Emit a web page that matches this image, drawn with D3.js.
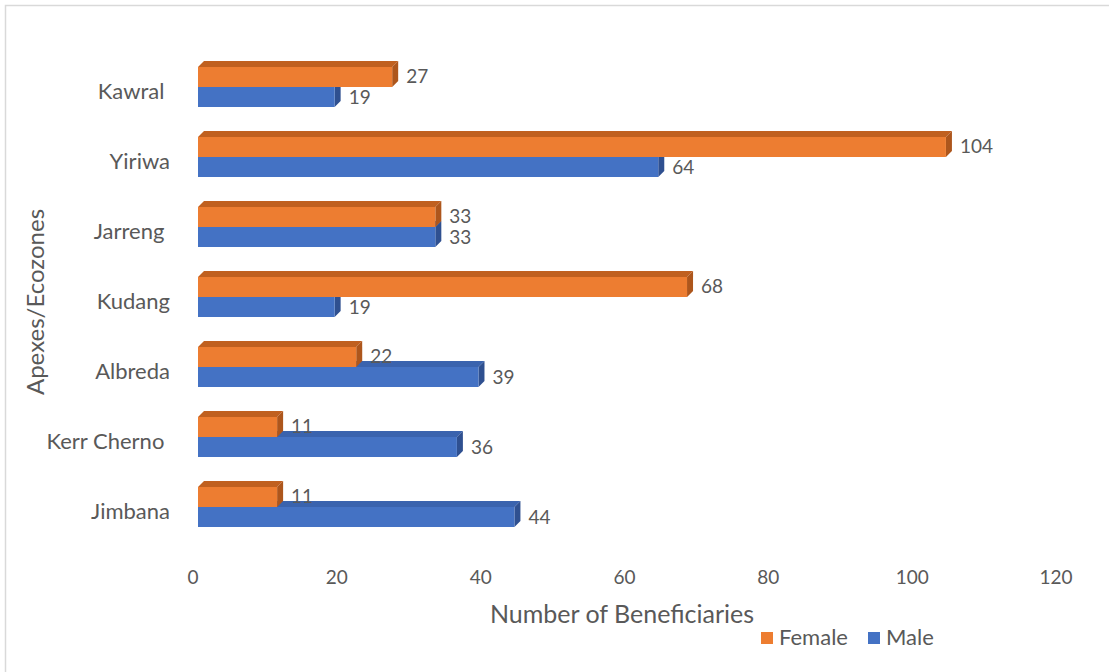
<!DOCTYPE html>
<html><head><meta charset="utf-8">
<script src="https://cdn.jsdelivr.net/npm/d3@7"></script>
<style>
body{margin:0;background:#fff;}
text{font-family:"Lato",sans-serif;fill:#595959;white-space:pre;}
</style></head><body>
<svg id="c" width="1109" height="672"></svg>
<script>
const categories = ["Kawral ", "Yiriwa", "Jarreng ", "Kudang", "Albreda", "Kerr Cherno ", "Jimbana"];
const female = [27, 104, 33, 68, 22, 11, 11];
const male = [19, 64, 33, 19, 39, 36, 44];
const xTicks = [0, 20, 40, 60, 80, 100, 120];
const seriesNames = ["Female", "Male"];

const colors = {
  Female: {front: "#ED7D31", top: "#C0601F", side: "#AD561C"},
  Male: {front: "#4472C4", top: "#3A63AE", side: "#2F5090"}
};

const svg = d3.select("#c");
svg.append("rect").attr("x", 5.5).attr("y", 5.5).attr("width", 1200).attr("height", 800)
  .attr("fill", "none").attr("stroke", "#d9d9d9").attr("stroke-width", 1.5);

const x = d3.scaleLinear().domain([0, 120]).range([198, 1061]);
const y = d3.scaleBand().domain(categories).range([52, 542]).padding(0);
const inner = d3.scaleBand().domain(seriesNames).range([15, 55]).padding(0);
const dx = 6, dy = -6;

const rows = categories.map((c, i) => ({cat: c, Female: female[i], Male: male[i]}));

const drawOrder = ["Male", "Female"];
drawOrder.forEach(s => {
  const g = svg.append("g");
  rows.forEach(r => {
    const x0 = x(0), x1 = x(r[s]);
    const y0 = y(r.cat) + inner(s), y1 = y0 + inner.bandwidth();
    const col = colors[s];
    g.append("path").attr("d", `M${x0},${y0}L${x0+dx},${y0+dy}L${x1+dx},${y0+dy}L${x1},${y0}Z`)
      .attr("fill", col.top);
    g.append("path").attr("d", `M${x1},${y0}L${x1+dx},${y0+dy}L${x1+dx},${y1+dy}L${x1},${y1}Z`)
      .attr("fill", col.side);
    g.append("rect").attr("x", x0).attr("y", y0).attr("width", x1 - x0).attr("height", y1 - y0)
      .attr("fill", col.front);
  });
});

seriesNames.forEach(s => {
  svg.append("g").selectAll("text").data(rows).join("text")
    .attr("x", d => x(d[s]) + dx + 8)
    .attr("y", d => y(d.cat) + inner(s) + inner.bandwidth() / 2 + (s === "Female" ? 1 : 2))
    .attr("dominant-baseline", "middle")
    .attr("font-size", 19)
    .text(d => d[s]);
});

svg.append("g").selectAll("text").data(categories).join("text")
  .attr("x", 170).attr("y", d => y(d) + y.bandwidth() / 2 + 6)
  .attr("text-anchor", "end").attr("dominant-baseline", "middle")
  .attr("font-size", 22)
  .text(d => d);

svg.append("g").selectAll("text").data(xTicks).join("text")
  .attr("x", d => x(d) - 5).attr("y", 579)
  .attr("text-anchor", "middle").attr("dominant-baseline", "middle")
  .attr("font-size", 19)
  .text(d => d);

svg.append("text").attr("x", 622).attr("y", 617).attr("text-anchor", "middle")
  .attr("dominant-baseline", "middle").attr("font-size", 25).text("Number of Beneficiaries");
svg.append("text").attr("transform", "translate(38,302) rotate(-90)").attr("text-anchor", "middle")
  .attr("dominant-baseline", "middle").attr("font-size", 24).text("Apexes/Ecozones");

const legend = svg.append("g");
const lx = [761, 868];
seriesNames.forEach((s, i) => {
  legend.append("rect").attr("x", lx[i]).attr("y", 632).attr("width", 12).attr("height", 12)
    .attr("fill", colors[s].front);
  legend.append("text").attr("x", lx[i] + 18).attr("y", 639).attr("dominant-baseline", "middle")
    .attr("font-size", 22).text(s);
});
</script>
</body></html>
